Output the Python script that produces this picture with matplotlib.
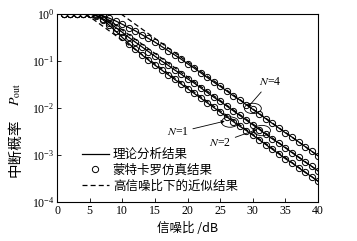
import matplotlib
matplotlib.use("Agg")
import matplotlib.pyplot as plt
from matplotlib.lines import Line2D
from matplotlib.patches import Ellipse
import numpy as np

plt.rcParams['font.family'] = ['Liberation Serif', 'Noto Sans CJK SC', 'DejaVu Sans']
plt.rcParams['mathtext.fontset'] = 'stix'

cjk = ['Noto Sans CJK SC', 'DejaVu Sans']

# SNR in dB (markers every 1 dB)
snr = list(range(0, 41))

# log10 of outage probability
log_n4 = [0, 0, 0, 0, 0, 0, -0.01, -0.04, -0.09, -0.15, -0.22,
          -0.29, -0.36, -0.44, -0.52, -0.60, -0.69, -0.78, -0.87, -0.96, -1.06,
          -1.15, -1.25, -1.35, -1.45, -1.54, -1.64, -1.74, -1.83, -1.93, -2.03,
          -2.13, -2.23, -2.33, -2.43, -2.53, -2.62, -2.72, -2.82, -2.92, -3.02]
log_n2 = [0, 0, 0, 0, 0, 0, -0.03, -0.10, -0.19, -0.29, -0.39,
          -0.50, -0.60, -0.70, -0.80, -0.90, -1.00, -1.09, -1.19, -1.28, -1.38,
          -1.47, -1.57, -1.67, -1.77, -1.86, -1.96, -2.06, -2.16, -2.26, -2.36,
          -2.46, -2.56, -2.66, -2.75, -2.85, -2.95, -3.05, -3.15, -3.24, -3.34]
log_n1 = [0, 0, 0, 0, 0, 0, -0.04, -0.12, -0.24, -0.37, -0.50,
          -0.63, -0.75, -0.87, -0.98, -1.09, -1.19, -1.29, -1.39, -1.49, -1.59,
          -1.69, -1.79, -1.89, -1.99, -2.09, -2.19, -2.29, -2.39, -2.48, -2.58,
          -2.68, -2.78, -2.88, -2.98, -3.08, -3.17, -3.27, -3.37, -3.46, -3.56]

# high-SNR approximations (straight lines on this scale)
approx_x = {'N4': [9.8, 40], 'N2': [6.6, 40], 'N1': [4.4, 40]}
approx_log = {'N4': [0, -3.02], 'N2': [0, -3.34], 'N1': [0, -3.56]}

fig = plt.figure(figsize=(3.57, 2.41), dpi=100)
ax = fig.add_axes([0.160, 0.162, 0.731, 0.780])

for logs in (log_n4, log_n2, log_n1):
    p = 10 ** np.array(logs)
    ax.plot(snr, p, color='black', lw=0.9)
    ax.plot(snr[1:], p[1:], linestyle='none', marker='o', ms=4.5,
            mfc='none', mec='black', mew=0.7)

for key in ('N4', 'N2', 'N1'):
    ax.plot(approx_x[key], 10 ** np.array(approx_log[key]), color='black',
            lw=0.9, linestyle=(0, (4, 2.5)))

ax.set_yscale('log')
ax.set_xlim(0, 40)
ax.set_ylim(1e-4, 1)
ax.set_xticks(range(0, 41, 5))
ax.minorticks_off()
ax.tick_params(direction='in', length=3, width=0.6, labelsize=8.5, pad=2)
for s in ax.spines.values():
    s.set_linewidth(0.8)

ax.set_xlabel('信噪比 /dB', fontsize=9, labelpad=4, family=cjk)
# y label: Chinese part and symbol drawn as two pieces
ax.text(-0.161, 0.29, '中断概率', rotation=90, ha='center', va='center',
        transform=ax.transAxes, fontsize=10.5, family=cjk)
ax.text(-0.161, 0.57, '$P_{\\rm out}$', rotation=90, ha='center', va='center',
        transform=ax.transAxes, fontsize=10)

# ellipses and labels
def to_axes(x, y):
    return ax.transAxes.inverted().transform(ax.transData.transform((x, y)))

marks = [('$N$=4', 30.0, 10 ** -2.01, 32.6, 10 ** -1.45),
         ('$N$=2', 31.4, 10 ** -2.48, 25.0, 10 ** -2.74),
         ('$N$=1', 26.5, 10 ** -2.30, 18.5, 10 ** -2.52)]
for label, ex, ey, tx, ty in marks:
    cx, cy = to_axes(ex, ey)
    ax.add_patch(Ellipse((cx, cy), 0.065, 0.055, transform=ax.transAxes,
                         fill=False, lw=0.6, ec='black'))
    ax.annotate(label, xy=(cx - 0.02, cy + 0.005), xycoords='axes fraction',
                xytext=(tx, ty), textcoords='data', fontsize=8.5,
                ha='center', va='center',
                arrowprops=dict(arrowstyle='-|>', lw=0.6, color='black',
                                mutation_scale=5, shrinkA=1, shrinkB=0))

handles = [Line2D([], [], color='black', lw=0.9),
           Line2D([], [], linestyle='none', marker='o', ms=4.5, mfc='none',
                  mec='black', mew=0.7),
           Line2D([], [], color='black', lw=0.9, linestyle=(0, (4, 2.5)))]
labels = ['理论分析结果', '蒙特卡罗仿真结果', '高信噪比下的近似结果']
ax.legend(handles, labels, loc='lower left', bbox_to_anchor=(0.06, 0.005),
          frameon=False, handlelength=2.2, handletextpad=0.3,
          labelspacing=0.2, borderaxespad=0.3,
          prop={'family': cjk, 'size': 9})

fig.savefig('out.png', dpi=100)
